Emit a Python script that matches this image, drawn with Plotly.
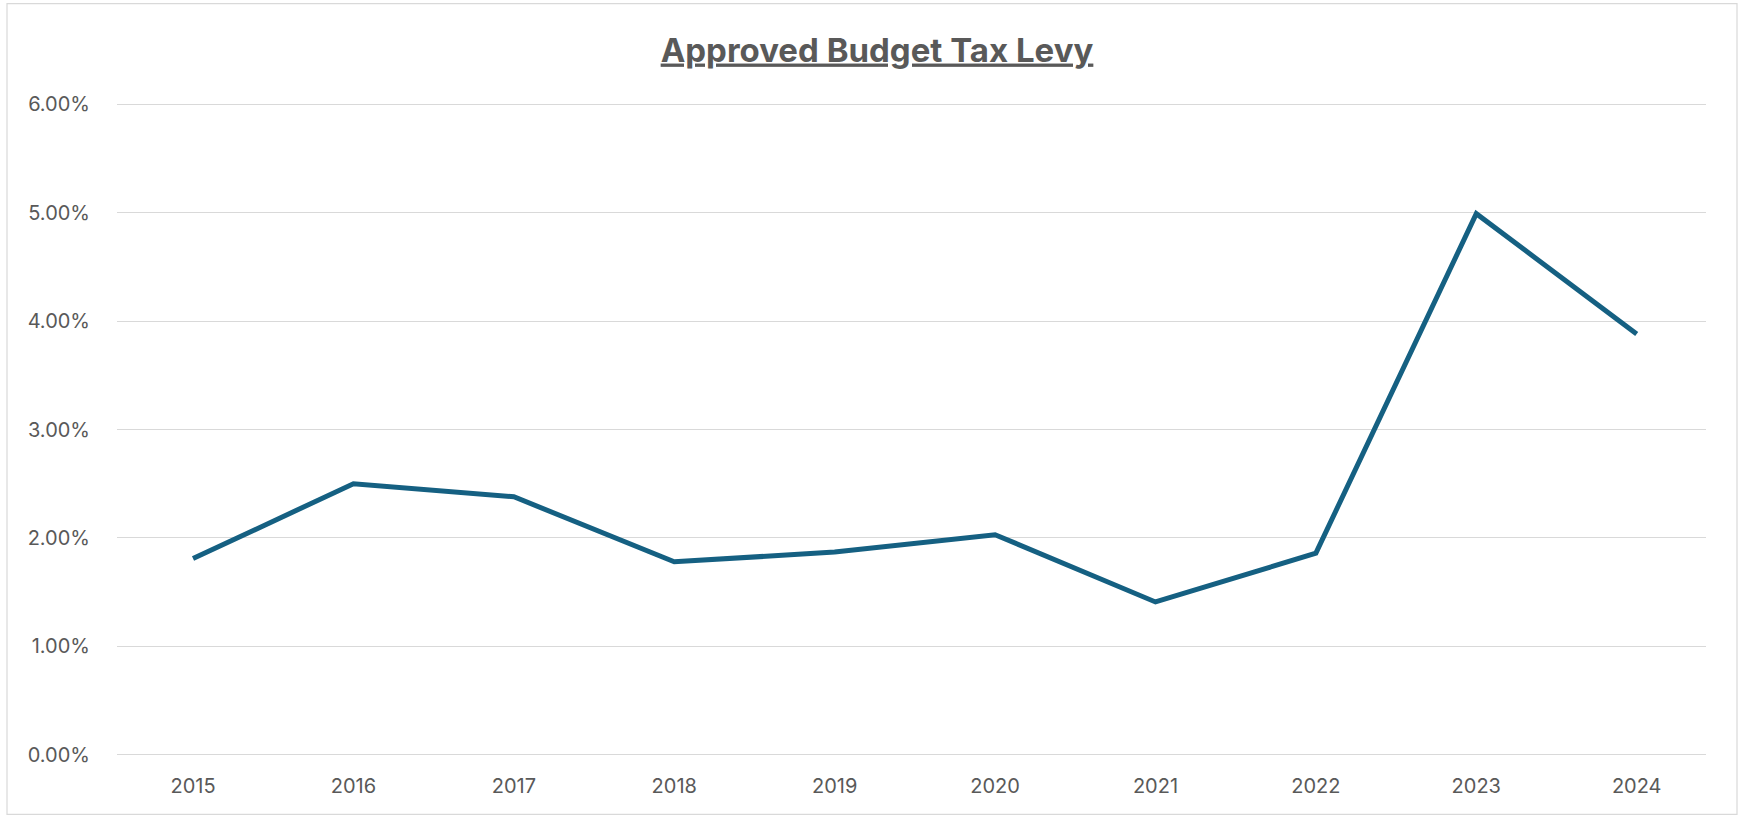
import plotly.graph_objects as go

years = ["2015", "2016", "2017", "2018", "2019", "2020", "2021", "2022", "2023", "2024"]
levy_pct = [1.81, 2.50, 2.38, 1.78, 1.87, 2.03, 1.41, 1.86, 4.99, 3.88]
y_ticks = [0, 1, 2, 3, 4, 5, 6]
y_tick_labels = ["0.00%", "1.00%", "2.00%", "3.00%", "4.00%", "5.00%", "6.00%"]
title_text = "Approved Budget Tax Levy"

W, H = 1743, 817
ml, mr, mt, mb = 117, 37, 102.5, 60.5

fig = go.Figure()
fig.add_trace(go.Scatter(
    x=years, y=levy_pct, mode="lines",
    line=dict(color="#156082", width=5),
    showlegend=False,
))

fig.update_layout(
    width=W, height=H,
    margin=dict(l=ml, r=mr, t=mt, b=mb, autoexpand=False),
    paper_bgcolor="white", plot_bgcolor="white",
    font=dict(family="Inter, Open Sans, sans-serif", color="#595959", size=20),
    title=dict(
        text="<b>" + title_text + "</b>",
        x=877 / W, xanchor="center",
        y=1 - 50 / H, yanchor="middle",
        font=dict(size=33, color="#595959", family="Inter, Open Sans, sans-serif", lineposition="under"),
    ),
    xaxis=dict(
        type="category", range=[-0.474, 9.432], showgrid=False, zeroline=False, showline=False,
        ticks="", tickfont=dict(size=20, color="#595959"), ticklabelstandoff=16,
        automargin=False,
    ),
    yaxis=dict(
        range=[-0.01, 6.01], tickvals=y_ticks, ticktext=y_tick_labels,
        showgrid=True, gridcolor="#d9d9d9", gridwidth=1.3, zeroline=False,
        showline=False, ticks="", tickfont=dict(size=20, color="#595959"),
        ticklabelstandoff=26, automargin=False,
    ),
    shapes=[dict(
        type="rect", xref="paper", yref="paper",
        x0=(7 - ml) / (W - ml - mr), x1=(1737 - ml) / (W - ml - mr),
        y0=-(mb - 2) / (H - mt - mb), y1=1 + (mt - 3) / (H - mt - mb),
        line=dict(color="#d9d9d9", width=1.2), layer="below",
    )],
)

fig.write_html(
    "out.html",
    config={"displayModeBar": False},
    post_script="document.body.style.margin='0';document.body.style.overflow='hidden';",
)
